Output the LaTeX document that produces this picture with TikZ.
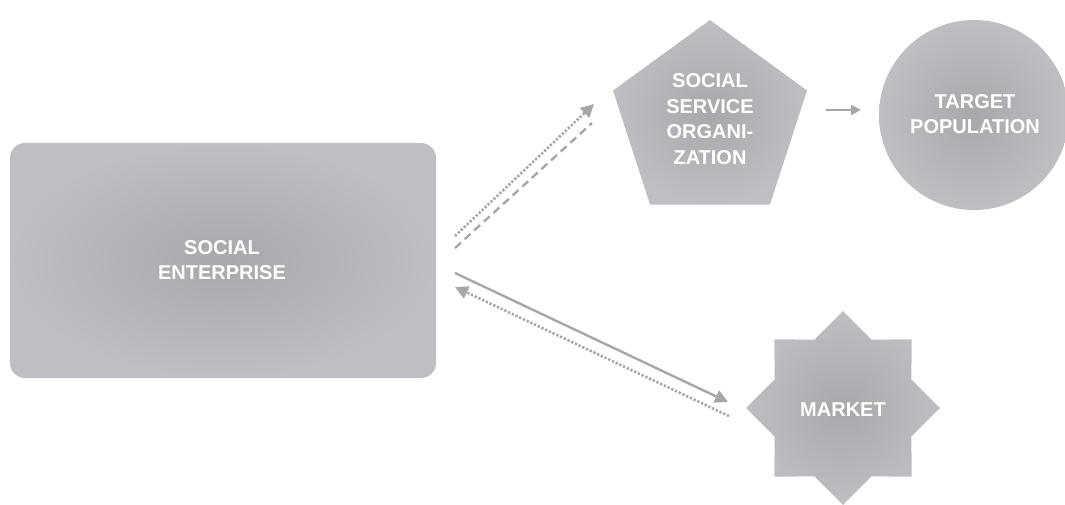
\documentclass[tikz,border=0pt]{standalone}
\usepackage{fontspec}
\setmainfont{Liberation Sans}
\usetikzlibrary{shapes.geometric,arrows.meta}
\definecolor{shapegray}{HTML}{A7A8AB}
\definecolor{shapeedge}{HTML}{BEBFC2}
\definecolor{linkgray}{HTML}{A6A7AA}
\begin{document}
\begin{tikzpicture}[x=1pt,y=-1pt,
  blob/.style={shade, inner color=shapegray, outer color=shapeedge, draw=none, inner sep=0pt},
  caption/.style={text=white, font=\fontsize{20}{25.5}\selectfont\bfseries, align=center, inner sep=0pt},
  link/.style={draw=linkgray, line width=2.4pt},
  dotline/.style={link, line width=2.6pt, dash pattern=on 2.3pt off 1.8pt},
  dashline/.style={link, dash pattern=on 8pt off 5pt},
  head/.style={-{Triangle[length=13pt,width=13pt]}},
  smallhead/.style={-{Triangle[length=10pt,width=10pt]}}
]
\useasboundingbox (0,0) rectangle (1065,505);

% shapes
\node[blob, rectangle, rounded corners=15pt, minimum width=426pt, minimum height=235pt]
  (se) at (223,260.5) {};
\node[blob, regular polygon, regular polygon sides=5, minimum size=204pt]
  (sso) at (710,122) {};
\node[blob, circle, minimum size=190pt] (tp) at (974,115) {};
\node[blob, star, star points=8, star point ratio=1.31, minimum size=194pt]
  (mk) at (843,408) {};

% texts
\node[caption] at (222,260) {SOCIAL\\ENTERPRISE};
\node[caption] at (710,119) {SOCIAL\\SERVICE\\ORGANI-\\ZATION};
\node[caption] at (975,114) {TARGET\\POPULATION};
\node[caption] at (843,410) {MARKET};

% connector end points
\coordinate (se-up1) at (455,236);
\coordinate (sso-in1) at (594,104);
\coordinate (se-up2) at (455,248);
\coordinate (sso-in2) at (592,123);
\coordinate (se-low1) at (455,273);
\coordinate (mk-in) at (728,402);
\coordinate (mk-out) at (729,416);
\coordinate (se-low2) at (455,287);
\coordinate (sso-out) at (826,110);
\coordinate (tp-in) at (861,110);

% connectors
\draw[dotline, head] (se-up1) -- (sso-in1);
\draw[dashline] (se-up2) -- (sso-in2);
\draw[link, head] (se-low1) -- (mk-in);
\draw[dotline, head] (mk-out) -- (se-low2);
\draw[link, line width=2pt, smallhead] (sso-out) -- (tp-in);
\end{tikzpicture}
\end{document}
